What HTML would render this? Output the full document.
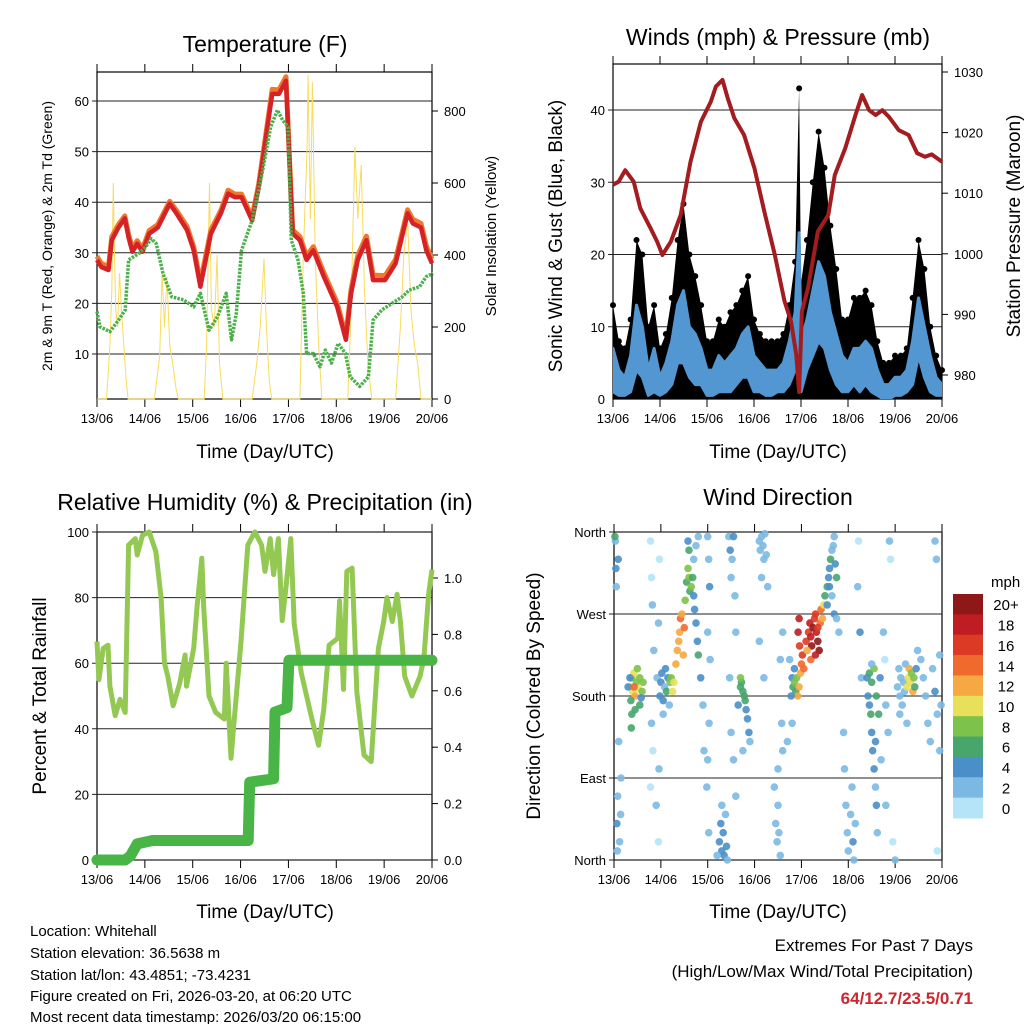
<!DOCTYPE html>
<html><head><meta charset="utf-8">
<style>
html,body{margin:0;padding:0;background:#fff;}
svg{display:block;font-family:"Liberation Sans",Arial,sans-serif;}
</style></head>
<body>
<svg id="chart" width="1024" height="1024" viewBox="0 0 1024 1024" xmlns="http://www.w3.org/2000/svg">
<g id="layer"></g>
<text x="265" y="52" font-size="23" text-anchor="middle">Temperature (F)</text>
<text transform="translate(52,236) rotate(-90)" font-size="14" text-anchor="middle">2m &amp; 9m T (Red, Orange) &amp; 2m Td (Green)</text>
<text transform="translate(496,236) rotate(-90)" font-size="15" text-anchor="middle">Solar Insolation (Yellow)</text>
<text x="265" y="458" font-size="19" text-anchor="middle">Time (Day/UTC)</text>

<text x="778" y="45" font-size="23" text-anchor="middle">Winds (mph) &amp; Pressure (mb)</text>
<text transform="translate(562,236) rotate(-90)" font-size="19" text-anchor="middle">Sonic Wind &amp; Gust (Blue, Black)</text>
<text transform="translate(1020,226) rotate(-90)" font-size="19" text-anchor="middle">Station Pressure (Maroon)</text>
<text x="778" y="458" font-size="19" text-anchor="middle">Time (Day/UTC)</text>

<text x="265" y="510" font-size="23" text-anchor="middle">Relative Humidity (%) &amp; Precipitation (in)</text>
<text transform="translate(46,696) rotate(-90)" font-size="19" text-anchor="middle">Percent &amp; Total Rainfall</text>
<text x="265" y="918" font-size="19" text-anchor="middle">Time (Day/UTC)</text>

<text x="778" y="505" font-size="23" text-anchor="middle">Wind Direction</text>
<text transform="translate(540,696) rotate(-90)" font-size="19" text-anchor="middle">Direction (Colored By Speed)</text>
<text x="778" y="918" font-size="19" text-anchor="middle">Time (Day/UTC)</text>
<text x="991" y="587" font-size="15">mph</text>

<g font-size="15">
<text x="30" y="936">Location: Whitehall</text>
<text x="30" y="958">Station elevation: 36.5638 m</text>
<text x="30" y="980">Station lat/lon: 43.4851; -73.4231</text>
<text x="30" y="1001">Figure created on Fri, 2026-03-20, at 06:20 UTC</text>
<text x="30" y="1022">Most recent data timestamp: 2026/03/20 06:15:00</text>
</g>
<g text-anchor="end">
<text x="973" y="951" font-size="17">Extremes For Past 7 Days</text>
<text x="973" y="977" font-size="17">(High/Low/Max Wind/Total Precipitation)</text>
<text x="973" y="1004" font-size="17" font-weight="bold" fill="#c8282e">64/12.7/23.5/0.71</text>
</g>
</svg>
<script>
const dayLabels=["13/06","14/06","15/06","16/06","17/06","18/06","19/06","20/06"];
const tempTicks=[0,10,20,30,40,50,60];
const solarTicks=[0,200,400,600,800];
const windTicks=[0,10,20,30,40];
const pressTicks=[980,990,1000,1010,1020,1030];
const rhTicks=[0,20,40,60,80,100];
const precipTicks=[0,0.2,0.4,0.6,0.8,1.0];
const dirTicks=[0,90,180,270,360];
const dirTickLabels=["North","East","South","West","North"];

const tempDays=[0,0.09,0.24,0.31,0.45,0.58,0.66,0.74,0.84,0.95,1.09,1.27,1.52,1.66,1.88,2.02,2.16,2.38,2.59,2.74,2.88,3.02,3.24,3.38,3.52,3.66,3.8,3.95,4.02,4.09,4.24,4.38,4.52,4.74,5.02,5.2,5.31,5.45,5.63,5.77,6.02,6.24,6.49,6.6,6.77,6.88,7.0];
const temp2m=[28.6,27.2,26.6,32.5,35,36.8,33,30.2,31.8,30.2,33.8,35,39.7,37.8,34.5,30.5,23.3,33.8,37.8,41.7,41,41,36.4,43,52.2,61.4,61.4,64,48.3,33.8,32.5,28.6,30.5,25.3,19.3,12.8,22,28.6,32.5,24.6,24.6,27.9,37.8,35.8,35,30.5,27.9];
const temp9m=[29.3,27.9,27.3,33.2,35.6,37.3,33.6,30.9,32.4,30.8,34.4,35.6,40.2,38.4,35.2,31.2,24.2,34.5,38.4,42.4,41.6,41.6,37.1,43.7,52.9,62.3,62.2,64.8,49,34.5,33.2,29.4,31.2,26.1,20.1,13.6,22.8,29.5,33.3,25.6,25.5,28.7,38.5,36.6,35.8,31.4,28.8];
const dewDays=[0,0.06,0.27,0.45,0.59,0.66,0.88,1.02,1.13,1.24,1.38,1.56,1.81,2.02,2.16,2.34,2.52,2.7,2.81,2.91,3.02,3.24,3.45,3.63,3.77,3.88,3.99,4.06,4.2,4.31,4.38,4.52,4.66,4.77,4.9,5.04,5.19,5.29,5.49,5.67,5.77,5.95,6.16,6.38,6.52,6.74,6.88,7.02];
const dewValues=[18.4,15.4,14.4,16.7,18.7,28.6,29.9,31.2,32.8,31.8,25.9,21.3,20.7,19.3,22,14.7,17.4,22,12.8,18,30.5,36.4,45.7,54.9,58.2,56.2,54.9,32.5,28.6,22,10.1,10.1,7.5,10.8,8.2,12.1,10.1,5.5,3.6,5.5,16.7,18.7,20,21.3,22.6,23.3,25.3,25.9];
const solarDays=[0,0.2,0.27,0.31,0.34,0.36,0.39,0.43,0.47,0.51,0.56,0.61,0.65,1.2,1.31,1.36,1.41,1.46,1.52,1.58,1.65,1.7,2.24,2.29,2.35,2.39,2.45,2.51,2.56,2.63,3.24,3.34,3.41,3.49,3.54,3.6,3.65,4.24,4.31,4.39,4.41,4.46,4.5,4.56,4.63,4.7,5.24,5.31,5.39,5.45,5.52,5.59,5.66,5.74,6.24,6.34,6.41,6.49,6.56,6.63,6.7,6.77,7];
const solarValues=[0,0,150,300,600,450,250,200,350,250,150,50,0,0,120,350,200,340,150,100,30,0,0,150,600,250,200,400,100,0,0,100,200,390,200,50,0,0,400,700,900,500,880,400,150,0,0,250,700,500,650,300,100,0,0,200,400,500,250,150,100,0,0];

const windDays=[0,0.125,0.25,0.375,0.5,0.625,0.75,0.875,1,1.125,1.25,1.375,1.5,1.625,1.75,1.875,2,2.125,2.25,2.375,2.5,2.625,2.75,2.875,3,3.125,3.25,3.375,3.5,3.625,3.75,3.875,3.96,4.0,4.125,4.25,4.375,4.5,4.625,4.75,4.875,5,5.125,5.25,5.375,5.5,5.625,5.75,5.875,6,6.125,6.25,6.375,6.5,6.625,6.75,6.875,7];
const windHigh=[7,4,3,6,13,10,4,7,3,5,8,13,15,10,9,7,4,4,6,5,6,7,9,10,6,5,4,4,4,5,8,12,23,8,11,15,19,17,12,9,6,5,7,7,8,7,4,2,2,3,3,4,8,14,10,6,3,2];
const windLow=[1,0.5,0.5,1,4,3,0.5,1,0.5,1,2,5,5,3,2,2,0.5,0.5,1,1,1,2,3,3,1,1,0.5,0.5,1,1,2,4,6,1,4,6,8,7,4,2,1,1,2,1,2,1,0.5,0,0,0.5,0.5,1,2,6,3,1,0.5,0.5];
const gustHigh=[13,8,7,11,22,20,10,13,7,9,14,22,27,20,17,13,8,8,11,10,12,13,15,17,11,9,8,8,8,9,13,19,43,16,22,30,37,32,24,18,11,11,14,14,15,13,8,5,5,6,6,7,14,22,18,10,6,4];
const pressDays=[0,0.12,0.26,0.44,0.58,0.8,0.94,1.05,1.23,1.44,1.65,1.87,2.08,2.19,2.33,2.44,2.58,2.79,3.01,3.22,3.44,3.65,3.79,3.9,3.96,4.02,4.15,4.36,4.58,4.72,4.94,5.16,5.3,5.45,5.59,5.73,5.87,6.08,6.29,6.47,6.64,6.78,7];
const pressValues=[1011.4,1011.9,1013.8,1011.9,1007.5,1004.2,1002,999.8,1002,1006.4,1015.2,1021.8,1025.1,1027.6,1028.7,1025.7,1022.4,1019.6,1014.1,1007,999.9,992.2,988.8,983.3,977.2,990.5,994.3,1003.7,1006.4,1013,1017.4,1022.9,1026.2,1023.7,1022.9,1023.7,1022.6,1020.4,1019.6,1016.6,1016,1016.4,1015.2];

const rhDays=[0,0.04,0.13,0.23,0.27,0.38,0.48,0.59,0.66,0.8,0.84,0.95,1.09,1.23,1.34,1.41,1.48,1.59,1.73,1.84,1.87,2.02,2.09,2.19,2.23,2.34,2.48,2.66,2.7,2.8,2.87,3.01,3.15,3.3,3.44,3.51,3.62,3.69,3.79,3.87,3.94,4.05,4.12,4.27,4.49,4.63,4.74,4.85,5.03,5.07,5.15,5.22,5.33,5.43,5.58,5.73,5.88,5.99,6.06,6.17,6.27,6.34,6.43,6.58,6.75,6.83,6.93,7];
const rhValues=[66.6,55,64.5,65.5,53,44,49,45,96,98,93,99,100,94,80,60,56,47,54,62.5,53,64.5,77,92,77,50,45,43,60,31,43,66.6,96,100,96,88,98,87,98,73,82,98,72,57,43,35,46,65.5,67.6,79,52,88,89,51,32,30,64.5,72.7,80,72.7,81,72.7,56,50,56,61.5,81,88.5];
const precipDays=[0,0.59,0.7,0.84,1.16,3.16,3.19,3.69,3.72,3.97,4.01,7];
const precipValues=[0,0,0.015,0.057,0.069,0.069,0.276,0.288,0.525,0.54,0.708,0.708];

const speedBins=[0,2,4,6,8,10,12,14,16,18,20];
const speedBinLabels=["0","2","4","6","8","10","12","14","16","18","20+"];
const dirObs=[[0.03,350,3],[0.04,320,4],[0.05,300,3],[0.07,10,3],[0.06,40,4],[0.08,70,2],[0.1,130,2],[0.12,20,3],[0.02,355,6],[0.09,330,4],[0.14,50,2],[0.15,90,3],
[0.78,350,1],[0.8,310,1],[0.82,280,2],[0.85,230,2],[0.8,150,2],[0.83,120,1],[0.9,60,2],[0.78,80,1],[0.95,260,2],[0.92,200,2],[0.95,20,1],[0.96,100,2],[0.97,330,1],
[0.35,190,10],[0.38,200,9],[0.4,185,11],[0.42,205,10],[0.45,180,12],[0.48,195,9],[0.5,210,8],[0.52,188,10],[0.55,200,8],[0.6,185,8],[0.62,195,9],[0.36,175,7],[0.38,160,6],[0.37,145,6],[0.45,165,7],[0.55,170,7],[0.3,190,4],[0.43,190,14],[0.58,178,5],[0.34,200,5],
[0.98,180,4],[1.0,195,4],[1.02,205,5],[1.05,175,4],[1.08,190,3],[1.1,210,4],[1.12,185,6],[1.15,200,4],[1.18,170,3],[1.05,160,3],[1.2,195,8],[1.25,185,10],[1.22,200,9],
[1.28,195,11],[1.32,215,12],[1.35,230,13],[1.38,240,12],[1.4,250,13],[1.42,265,14],[1.45,270,12],[1.48,225,12],[1.5,255,14],[1.52,285,8],[1.55,305,7],[1.58,320,8],[1.6,310,9],[1.62,295,6],[1.65,300,8],[1.7,290,5],[1.72,275,4],[1.75,260,5],[1.78,240,4],[1.8,225,6],[1.7,330,3],[1.75,345,2],[1.8,355,3],[1.68,310,6],[1.6,340,7],[1.58,350,4],[1.85,200,4],[1.9,170,3],[1.92,120,3],
[2.0,355,2],[2.02,330,3],[2.04,300,4],[2.0,250,3],[2.05,220,2],[2.03,150,3],[2.0,110,2],[1.98,80,2],[2.02,30,3],
[2.25,20,4],[2.28,40,4],[2.3,10,4],[2.33,30,5],[2.35,5,4],[2.38,50,3],[2.4,15,4],[2.3,60,3],[2.42,0,3],[2.2,5,3],
[2.45,355,3],[2.48,340,4],[2.5,310,3],[2.52,330,3],[2.55,355,4],[2.58,290,2],[2.6,250,2],[2.47,200,3],[2.5,140,2],[2.55,110,3],[2.6,70,2],
[2.7,190,7],[2.72,195,6],[2.75,185,7],[2.78,180,6],[2.8,175,6],[2.82,165,5],[2.85,155,4],[2.88,140,4],[2.9,130,3],[2.7,200,8],[2.65,170,4],[2.75,120,3],
[3.1,350,2],[3.12,340,2],[3.15,355,3],[3.18,345,3],[3.2,330,2],[3.22,358,2],[3.25,335,3],[3.15,310,2],[3.28,300,2],[3.1,240,2],[3.2,200,3],
[3.45,40,2],[3.48,20,3],[3.5,60,2],[3.52,30,2],[3.55,5,3],[3.42,80,2],[3.5,100,2],[3.6,120,2],[3.58,150,3],[3.55,220,2],[3.6,250,2],
[3.75,220,3],[3.8,200,5],[3.82,190,7],[3.85,195,8],[3.88,185,6],[3.9,200,8],[3.92,180,12],[3.95,190,13],[3.98,205,12],[4.0,215,15],[4.02,225,16],[4.05,210,14],[3.96,235,17],[3.93,250,18],[3.95,265,18],[3.85,210,4],[3.78,180,4],[3.8,150,3],[3.7,130,3],
[4.1,240,16],[4.15,250,17],[4.18,260,19],[4.2,245,18],[4.22,235,20],[4.25,255,21],[4.28,265,17],[4.3,270,16],[4.32,250,19],[4.35,240,20],[4.38,230,21],[4.4,260,15],[4.42,275,14],[4.45,265,12],[4.48,280,10],[4.12,230,13],[4.2,220,15],[4.3,225,18],[4.35,255,16],
[4.5,290,6],[4.55,300,7],[4.58,310,5],[4.6,320,4],[4.62,330,6],[4.65,340,3],[4.68,345,3],[4.6,300,4],[4.55,280,5],[4.7,355,3],[4.72,325,4],[4.65,290,3],[4.7,270,4],[4.75,310,6],[4.75,265,3],[4.8,250,3],
[4.9,140,2],[4.92,100,2],[4.95,60,3],[4.98,30,2],[5.0,10,3],[5.05,50,2],[5.08,80,3],[5.1,20,4],[5.12,0,2],[5.15,40,2],[5.2,300,2],[5.25,250,4],[5.28,200,2],[5.22,350,1],
[5.4,200,4],[5.42,180,5],[5.45,170,4],[5.48,160,6],[5.5,140,4],[5.52,120,5],[5.55,100,4],[5.58,80,3],[5.6,60,4],[5.62,30,3],[5.45,205,7],[5.5,195,7],[5.55,210,8],[5.6,180,6],[5.65,160,6],[5.68,200,5],[5.5,215,3],[5.58,130,4],[5.7,110,3],
[5.75,250,2],[5.78,220,1],[5.8,170,2],[5.85,140,2],[5.9,330,1],[5.88,350,2],[5.95,20,1],[5.8,60,2],[6.0,0,2],
[6.05,190,3],[6.08,210,2],[6.1,180,2],[6.12,200,3],[6.15,170,2],[6.18,195,3],[6.2,185,3],[6.22,215,2],[6.25,190,10],[6.28,200,11],[6.3,210,12],[6.32,195,10],[6.35,205,9],[6.38,185,12],[6.4,200,8],[6.42,190,7],[6.25,150,2],[6.1,160,2],[6.45,210,5],[6.48,230,3],
[6.55,220,3],[6.6,200,2],[6.65,180,2],[6.7,150,3],[6.75,130,2],[6.8,210,3],[6.85,185,4],[6.9,160,2],[6.95,225,2],[6.98,170,3],[6.85,350,2],[6.88,330,2],[6.9,10,1],[6.95,120,2]];
const binColors=["#b5e4f8","#7cb9e2","#4a8fc8","#48a56c","#7dc24a","#e8e05a","#f6a843","#ef6a2c","#dd3a26","#bf1d23","#8e1717"];

const NS="http://www.w3.org/2000/svg";
const layer=document.getElementById("layer");
function mk(tag,attrs,parent){const e=document.createElementNS(NS,tag);for(const k in attrs)e.setAttribute(k,attrs[k]);(parent||layer).appendChild(e);return e;}
function lin(d0,d1,r0,r1){return v=>r0+(v-d0)*(r1-r0)/(d1-d0);}
function pts(xs,ys,fx,fy){return xs.map((d,i)=>fx(d).toFixed(1)+","+fy(ys[i]).toFixed(1)).join(" ");}

function frame(P,name){
  const g=mk("g",{});
  
  
  for(let i=0;i<dayLabels.length;i++){
    const x=P.x0+i*(P.x1-P.x0)/7;
    mk("line",{x1:x,x2:x,y1:P.y0-8,y2:P.y0,stroke:"#000","stroke-width":1},g);
    mk("line",{x1:x,x2:x,y1:P.y1,y2:P.y1+8,stroke:"#000","stroke-width":1},g);
    const t=mk("text",{x:x,y:P.y1+24,"font-size":13,"text-anchor":"middle"},g);
    t.textContent=dayLabels[i];
    
    
  }
  mk("rect",{x:P.x0,y:P.y0,width:P.x1-P.x0,height:P.y1-P.y0,fill:"none",stroke:"#000","stroke-width":1.2},g);
  return g;
}
function leftTicks(P,ticks,fy,labels,name){
  const g=mk("g",{});
  
  
  ticks.forEach((v,i)=>{const y=fy(v);
    mk("line",{x1:P.x0-5,x2:P.x1,y1:y,y2:y,stroke:"#222","stroke-width":1},g);
    const t=mk("text",{x:P.x0-8,y:y+5,"font-size":13,"text-anchor":"end"},g);t.textContent=labels?labels[i]:v;});
}
function rightTicks(P,ticks,fy,fmt,name){
  const g=mk("g",{});
  
  
  ticks.forEach(v=>{const y=fy(v);
    mk("line",{x1:P.x1,x2:P.x1+6,y1:y,y2:y,stroke:"#000","stroke-width":1},g);
    const t=mk("text",{x:P.x1+12,y:y+5,"font-size":13},g);t.textContent=fmt(v);});
}

// ---------- Temperature
const PT={x0:97,x1:432,y0:72,y1:399};
const tx=lin(0,7,PT.x0,PT.x1), ty=lin(0,60,404.6,101), sy=lin(0,800,399,111);
frame(PT,"temperature");
leftTicks(PT,tempTicks.slice(1),ty,null,"temperature-y-ticks");
rightTicks(PT,solarTicks,sy,v=>v,"solar-y-ticks");
const solarLine=mk("polyline",{points:pts(solarDays,solarValues,tx,sy),fill:"none",stroke:"#f8dc5c","stroke-width":1});


const t9=mk("polyline",{points:pts(tempDays,temp9m,tx,ty),fill:"none",stroke:"#f0782e","stroke-width":5,"stroke-linejoin":"round"});


const t2=mk("polyline",{points:pts(tempDays,temp2m,tx,ty),fill:"none",stroke:"#d42226","stroke-width":4.5,"stroke-linejoin":"round"});


const dw=mk("polyline",{points:pts(dewDays,dewValues,tx,ty),fill:"none",stroke:"#4bb04a","stroke-width":3.5,"stroke-dasharray":"2.5 1.2","stroke-linejoin":"round"});



// ---------- Winds
const PW={x0:613,x1:942,y0:64,y1:399};
const wx=lin(0,7,PW.x0,PW.x1), wy=lin(0,40,399,110), py=lin(980,1030,375,72);
frame(PW,"winds");
leftTicks(PW,windTicks.slice(1),wy,null,"wind-y-ticks");
const z=mk("text",{x:PW.x0-8,y:404,"font-size":13,"text-anchor":"end"});z.textContent="0";


rightTicks(PW,pressTicks,py,v=>v,"pressure-y-ticks");
const clip=mk("clipPath",{id:"wclip"});mk("rect",{x:PW.x0,y:PW.y0,width:PW.x1-PW.x0,height:PW.y1-PW.y0},clip);
const gustPoly=mk("polygon",{points:pts(windDays,gustHigh,wx,wy)+" "+wx(7)+","+wy(0)+" "+wx(0)+","+wy(0),fill:"#000","clip-path":"url(#wclip)"});


windDays.forEach((d,i)=>{const c=mk("circle",{cx:wx(d),cy:wy(gustHigh[i]),r:3,fill:"#000"});

});
const lowRev=windDays.map((d,i)=>wx(d).toFixed(1)+","+wy(windLow[i]).toFixed(1)).reverse().join(" ");
const windPoly=mk("polygon",{points:pts(windDays,windHigh,wx,wy)+" "+lowRev,fill:"#5297d1",stroke:"#5297d1","stroke-width":3,"stroke-linejoin":"round","clip-path":"url(#wclip)"});


const pl=mk("polyline",{points:pts(pressDays,pressValues,wx,py),fill:"none",stroke:"#a31c1f","stroke-width":4,"stroke-linejoin":"round"});



// ---------- Humidity
const PR={x0:97,x1:432,y0:532,y1:860};
const rx=lin(0,7,PR.x0,PR.x1), ry=lin(0,100,860,532), pry=lin(0,1,860,578);
frame(PR,"humidity");
leftTicks(PR,rhTicks,ry,null,"humidity-y-ticks");
rightTicks(PR,precipTicks,pry,v=>v.toFixed(1),"precip-y-ticks");
const rl=mk("polyline",{points:pts(rhDays,rhValues,rx,ry),fill:"none",stroke:"#93c953","stroke-width":5,"stroke-linejoin":"round"});


const prl=mk("polyline",{points:pts(precipDays,precipValues,rx,pry),fill:"none",stroke:"#4ab547","stroke-width":11,"stroke-linejoin":"round","stroke-linecap":"round"});



// ---------- Direction
const PD={x0:614,x1:942,y0:532,y1:860};
const dx=lin(0,7,PD.x0,PD.x1), dy=lin(0,360,860,532);
frame(PD,"wind-direction");
leftTicks(PD,dirTicks,dy,dirTickLabels,"direction-y-ticks");
dirObs.forEach(o=>{const b=Math.min(10,Math.floor(o[2]/2));
  const c=mk("circle",{cx:dx(o[0]).toFixed(1),cy:dy(o[1]).toFixed(1),r:3.8,fill:binColors[b],"fill-opacity":0.9});
  
  });
// colorbar
const cb=mk("g",{});


const cbTop=594,cbH=224/11;
speedBins.forEach((s,i)=>{const k=10-i;const y=cbTop+i*cbH;
  mk("rect",{x:953,y:y,width:30,height:cbH+0.5,fill:binColors[k]},cb);
  const t=mk("text",{x:1006,y:y+cbH/2+6,"font-size":15,"text-anchor":"middle"},cb);t.textContent=speedBinLabels[k];});
</script>
</body></html>
